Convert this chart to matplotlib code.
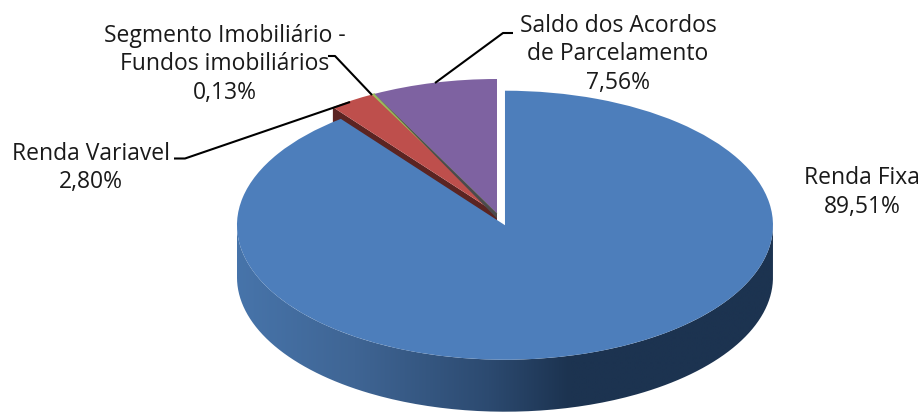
import numpy as np
import matplotlib
matplotlib.use("Agg")
import matplotlib.pyplot as plt
from matplotlib.patches import PathPatch, Polygon
from matplotlib.path import Path
from matplotlib.transforms import Affine2D
from matplotlib.colors import LinearSegmentedColormap

categories = ["Renda Fixa", "Renda Variavel", "Segmento Imobiliário -\nFundos imobiliários", "Saldo dos Acordos\nde Parcelamento"]
shares = [89.51, 2.80, 0.13, 7.56]
share_labels = ["89,51%", "2,80%", "0,13%", "7,56%"]
colors = ["#4d7ebb", "#be4f4c", "#9bbb59", "#7e62a1"]

W, H = 923, 413
CX, CY = 497, 213.5   # pie centre in pixels
RX, RY = 268, 134.5   # radius in pixels, squashed for the 3d look
DEPTH = 52 / RY
EXPLODE = 0.092

# label centre (x, y of the first line) and leader lines, in pixels
label_pos = [(862, 178.5), (91, 153.5), (225, 35.5), (618, 25.5)]
leaders = [None,
           [(174, 158.5), (185, 158.5), (350, 102)],
           [(328, 56), (335, 56), (372, 95)],
           [(513, 33), (503, 33), (435, 83)]]

plt.rcParams["font.family"] = ["Open Sans", "DejaVu Sans"]

fig = plt.figure(figsize=(W / 100, H / 100), dpi=100)
ax = fig.add_axes([0, 0, 1, 1])

wedges, _ = ax.pie(shares, colors=colors, explode=[EXPLODE, 0, 0, 0], startangle=90,
                   counterclock=False, radius=1, wedgeprops={"linewidth": 0})
for w in wedges:
    w.set_zorder(3)
# the green slice is nearly nothing, give it an edge so it still shows
wedges[2].set_edgecolor(colors[2])
wedges[2].set_linewidth(0.9)

ax.set_aspect("auto")
ax.axis("off")

# side wall of the blue slice, a horizontal gradient clipped to the extruded rim
bx, by = wedges[0].center
t = np.linspace(np.pi, 2 * np.pi, 200)
top_x, top_y = bx + np.cos(t), by + np.sin(t)
wall = np.vstack([np.column_stack([top_x, top_y]),
                  np.column_stack([top_x[::-1], top_y[::-1] - DEPTH])])
cmap = LinearSegmentedColormap.from_list("wall", [(0, "#4774aa"), (0.22, "#3f6594"), (0.47, "#2c4a70"),
                                                  (0.62, "#1c3350"), (1, "#1c3350")])
grad = np.linspace(0, 1, 256).reshape(1, -1)
im = ax.imshow(grad, cmap=cmap, aspect="auto", zorder=1, interpolation="bilinear",
               extent=[bx - 1, bx + 1, by - 1 - DEPTH, by + 1])
im.set_clip_path(PathPatch(Path(wall), transform=ax.transData))
ax.set_xlim(-CX / RX, (W - CX) / RX)
ax.set_ylim(-(H - CY) / RY, CY / RY)

# cut faces: dark red under the blue slice, thin dark strip beside the purple one
start = np.radians(360 * shares[0] / sum(shares))
rx0, ry0 = np.sin(start), np.cos(start)
ax.add_patch(Polygon([(0, 0), (rx0, ry0), (rx0, ry0 - DEPTH), (0, -DEPTH)],
                     closed=True, fc="#5b2422", ec="none", zorder=2))
start = np.radians(360 * sum(shares[:3]) / sum(shares))
ax.add_patch(Polygon([(0, 0), (np.sin(start), np.cos(start)), (0, -5 / RY)],
                     closed=True, fc="#4b4a4c", ec="none", zorder=4))

# labels and leaders are placed in pixels, y going down
px = Affine2D().scale(1, -1).translate(0, H)
for name, share, pos, leader in zip(categories, share_labels, label_pos, leaders):
    lines = (name + "\n" + share).split("\n")
    for i, line in enumerate(lines):
        ax.text(pos[0], pos[1] + i * 28.7, line, transform=px, ha="center", va="center",
                fontsize=16.5, color="#1a1a1a", zorder=6)
    if leader:
        ax.plot(*zip(*leader), transform=px, color="black", lw=1.5, zorder=5, solid_capstyle="butt")

fig.savefig("out.png", dpi=100)
